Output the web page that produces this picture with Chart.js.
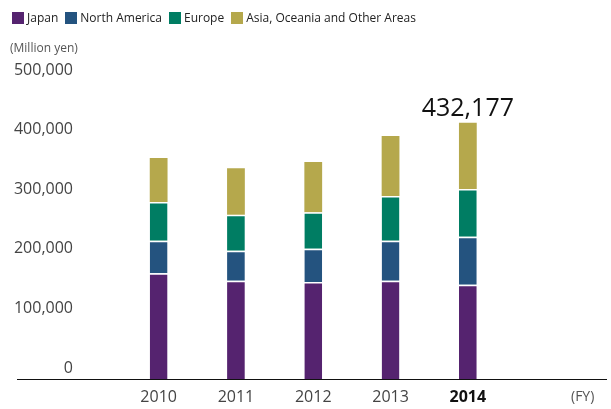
<!DOCTYPE html>
<html>
<head>
<meta charset="utf-8">
<script src="https://cdn.jsdelivr.net/npm/chart.js@4"></script>
<style>
  html, body { margin: 0; padding: 0; background: #fff; }
  #wrap { position: relative; width: 611px; height: 409px; }
  #legend {
    position: absolute; left: 12px; top: 9px;
    display: flex; align-items: center;
    font: 12px 'Open Sans', sans-serif; color: #222;
  }
  #legend .item { display: flex; align-items: center; margin-right: 7px; }
  #legend .box { width: 12px; height: 12px; margin-right: 3px; }
</style>
</head>
<body>
<div id="wrap">
  <canvas id="chart" width="611" height="409"></canvas>
  <div id="legend"></div>
</div>
<script>
/* ── DATA (million yen) ─────────────────────────────── */
const years    = ['2010', '2011', '2012', '2013', '2014'];
const japan    = [179200, 166800, 164600, 166800, 160100];
const nAmerica = [54800, 50400, 55900, 67200, 80600];
const europe   = [65000, 60400, 61100, 75000, 80100];
const asia     = [73900, 78000, 84500, 100800, 111377];
const yTicks   = [0, 100000, 200000, 300000, 400000, 500000];

const seriesNames  = ['Japan', 'North America', 'Europe', 'Asia, Oceania and Other Areas'];
const seriesColors = ['#55236f', '#24537f', '#007d63', '#b5a84c'];

const FONT = "'Open Sans', sans-serif";

/* ── LEGEND (html) ──────────────────────────────────── */
document.getElementById('legend').innerHTML = seriesNames.map((n, i) =>
  `<span class="item"><span class="box" style="background:${seriesColors[i]}"></span>${n}</span>`
).join('');

/* ── EXTRA TEXT + BASELINE ──────────────────────────── */
const extras = {
  id: 'extras',
  afterDraw(chart) {
    const { ctx, scales: { x, y } } = chart;
    ctx.save();

    // baseline
    const base = Math.round(y.getPixelForValue(0)) - 0.5;
    ctx.strokeStyle = '#111';
    ctx.lineWidth = 1.2;
    ctx.beginPath();
    ctx.moveTo(17, base);
    ctx.lineTo(607, base);
    ctx.stroke();

    // unit labels
    ctx.fillStyle = '#555';
    ctx.font = `12px ${FONT}`;
    ctx.textAlign = 'left';
    ctx.textBaseline = 'middle';
    ctx.fillText('(Million yen)', 10, 49);
    ctx.font = `14px ${FONT}`;
    ctx.fillText('(FY)', 571, 397);

    // total on last bar
    const last = years.length - 1;
    const total = japan[last] + nAmerica[last] + europe[last] + asia[last];
    ctx.fillStyle = '#111';
    ctx.font = `25px ${FONT}`;
    ctx.textAlign = 'center';
    ctx.textBaseline = 'alphabetic';
    ctx.fillText(total.toLocaleString('en-US'), x.getPixelForValue(last), y.getPixelForValue(total) - 7);
    ctx.restore();
  }
};

const seriesData = [japan, nAmerica, europe, asia];

new Chart(document.getElementById('chart'), {
  type: 'bar',
  data: {
    labels: years,
    datasets: seriesData.map((d, i) => ({
      label: seriesNames[i],
      data: d,
      backgroundColor: seriesColors[i],
      borderColor: '#fff',
      borderWidth: { top: i < 3 ? 1.5 : 0, left: 0, right: 0, bottom: 0 },
      borderSkipped: false,
      barPercentage: 0.23,
      categoryPercentage: 1,
    }))
  },
  options: {
    responsive: false,
    animation: false,
    layout: { padding: { top: 82.3, left: 0, right: 104.5, bottom: 0 } },
    plugins: { legend: { display: false }, tooltip: { enabled: false } },
    scales: {
      x: {
        stacked: true,
        grid: { display: false, drawTicks: false },
        border: { display: false },
        afterFit(s) { s.height = 29; },
        ticks: {
          padding: 8,
          font: (c) => ({ family: FONT, size: 16, weight: c.index === 4 ? 'bold' : 'normal' }),
          color: (c) => c.index === 4 ? '#111' : '#444',
        }
      },
      y: {
        stacked: true,
        min: 0,
        max: 500000,
        grid: { display: false, drawTicks: false },
        border: { display: false },
        afterFit(s) { s.width = 120; s.paddingTop = 0; s.paddingBottom = 0; },
        afterBuildTicks(s) { s.ticks = yTicks.map(v => ({ value: v })); },
        ticks: {
          padding: 47,
          labelOffset: -12,
          font: { family: FONT, size: 16 },
          color: '#444',
          callback: v => v.toLocaleString('en-US'),
        }
      }
    }
  },
  plugins: [extras]
});
</script>
</body>
</html>
